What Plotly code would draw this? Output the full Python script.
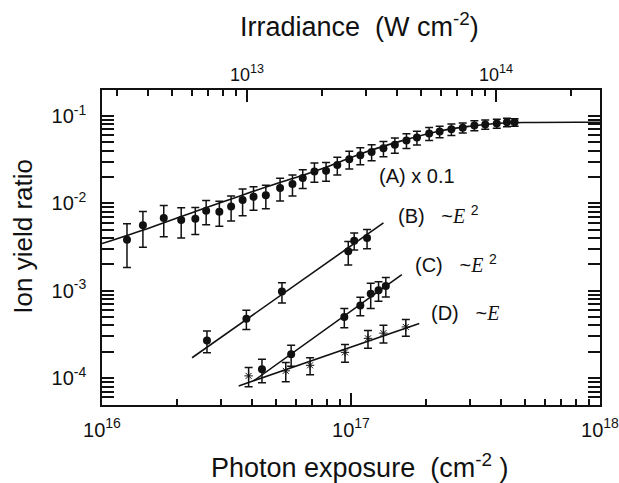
import plotly.graph_objects as go
import numpy as np

# ---------------- data ----------------
# Series A (x 0.1)
a_x = [1.26e16, 1.46e16, 1.77e16, 2.08e16, 2.37e16, 2.62e16, 2.96e16, 3.30e16, 3.67e16, 4.06e16,
       4.55e16, 5.19e16, 5.82e16, 6.40e16, 7.13e16, 7.94e16, 8.81e16, 9.84e16, 1.09e17, 1.21e17,
       1.35e17, 1.50e17, 1.67e17, 1.84e17, 2.06e17, 2.27e17, 2.53e17, 2.81e17, 3.13e17, 3.46e17,
       3.85e17, 4.23e17, 4.54e17]
a_y = [3.84e-3, 5.60e-3, 6.80e-3, 6.45e-3, 6.67e-3, 8.24e-3, 8.02e-3, 9.22e-3, 1.09e-2, 1.19e-2,
       1.24e-2, 1.50e-2, 1.66e-2, 1.95e-2, 2.32e-2, 2.36e-2, 2.74e-2, 3.20e-2, 3.54e-2, 3.88e-2,
       4.26e-2, 4.67e-2, 5.25e-2, 5.68e-2, 6.31e-2, 6.62e-2, 7.05e-2, 7.33e-2, 7.79e-2, 8.00e-2,
       8.21e-2, 8.47e-2, 8.47e-2]
a_rel_err = [0.52, 0.44, 0.39, 0.38, 0.34, 0.31, 0.32, 0.32, 0.34, 0.30,
             0.30, 0.29, 0.27, 0.24, 0.25, 0.24, 0.23, 0.23, 0.22, 0.21,
             0.20, 0.20, 0.19, 0.18, 0.17, 0.15, 0.15, 0.13, 0.13, 0.12,
             0.12, 0.11, 0.10]
a_fit_x = [1.0e16, 1.56e16, 2.48e16, 3.33e16, 4.73e16, 6.40e16, 8.24e16, 1.09e17, 1.57e17,
           2.27e17, 3.00e17, 3.95e17, 5.21e17, 1.0e18]
a_fit_y = [3.46e-3, 5.26e-3, 8.45e-3, 1.13e-2, 1.59e-2, 2.09e-2, 2.69e-2, 3.68e-2, 5.12e-2,
           6.74e-2, 7.63e-2, 8.26e-2, 8.43e-2, 8.47e-2]

# Series B  (~E^2)
b_x = [2.64e16, 3.80e16, 5.28e16, 9.75e16, 1.03e17, 1.16e17]
b_y = [2.70e-4, 4.79e-4, 9.80e-4, 2.82e-3, 3.74e-3, 4.02e-3]
b_rel_err = [0.28, 0.25, 0.26, 0.30, 0.22, 0.25]
b_fit_x = [2.30e16, 1.35e17]
b_fit_y = [1.71e-4, 5.96e-3]

# Series C  (~E^2)
c_x = [4.39e16, 5.75e16, 9.40e16, 1.09e17, 1.20e17, 1.29e17, 1.38e17]
c_y = [1.26e-4, 1.87e-4, 5.01e-4, 6.78e-4, 9.22e-4, 1.01e-3, 1.13e-3]
c_rel_err = [0.30, 0.27, 0.25, 0.24, 0.32, 0.25, 0.25]
c_fit_x = [4.06e16, 1.60e17]
c_fit_y = [9.27e-5, 1.53e-3]

# Series D  (~E)
d_x = [3.88e16, 5.47e16, 6.85e16, 9.46e16, 1.17e17, 1.35e17, 1.66e17]
d_y = [1.06e-4, 1.21e-4, 1.40e-4, 1.97e-4, 2.85e-4, 3.27e-4, 3.85e-4]
d_rel_err = [0.25, 0.25, 0.22, 0.23, 0.23, 0.23, 0.22]
d_fit_x = [3.54e16, 1.88e17]
d_fit_y = [8.13e-5, 4.22e-4]

# axes
x_range_log = [16, 18]
y_range_log = [-4.308, -0.703]
irr_log_offset = -3.582   # log10(irradiance / photon exposure)

x_major = [1e16, 1e17, 1e18]
x_major_text = ["10<sup>16</sup>", "10<sup>17</sup>", "10<sup>18</sup>"]
y_major = [1e-4, 1e-3, 1e-2, 1e-1]
y_major_text = ["10<sup>-4</sup>", "10<sup>-3</sup>", "10<sup>-2</sup>", "10<sup>-1</sup>"]
top_major = [1e13, 1e14]
top_major_text = ["10<sup>13</sup>", "10<sup>14</sup>"]


def minor_vals(lo_log, hi_log):
    vals = []
    for e in range(int(np.floor(lo_log)) - 1, int(np.ceil(hi_log)) + 1):
        for k in range(2, 10):
            v = k * 10.0 ** e
            if lo_log <= np.log10(v) <= hi_log:
                vals.append(v)
    return vals


top_range_log = [x_range_log[0] + irr_log_offset, x_range_log[1] + irr_log_offset]

FONT = "Liberation Sans, Arial, sans-serif"
INK = "#111111"

fig = go.Figure()


def add_points(x, y, rel, symbol, size, msize_line=0):
    err = [r * v for r, v in zip(rel, y)]
    fig.add_trace(go.Scatter(
        x=x, y=y, mode="markers",
        marker=dict(symbol=symbol, size=size, color=INK,
                    line=dict(color=INK, width=msize_line)),
        error_y=dict(type="data", array=err, symmetric=True, color=INK,
                     thickness=1.5, width=4),
        showlegend=False, hoverinfo="skip", cliponaxis=False))


def add_line(x, y, shape="linear"):
    fig.add_trace(go.Scatter(x=x, y=y, mode="lines",
                             line=dict(color=INK, width=1.6, shape=shape),
                             showlegend=False, hoverinfo="skip"))


add_line(a_fit_x, a_fit_y, shape="spline")
add_line(b_fit_x, b_fit_y)
add_line(c_fit_x, c_fit_y)
add_line(d_fit_x, d_fit_y)
add_points(a_x, a_y, a_rel_err, "circle", 8)
add_points(b_x, b_y, b_rel_err, "circle", 8)
add_points(c_x, c_y, c_rel_err, "circle", 8)
add_points(d_x, d_y, d_rel_err, "asterisk-open", 7, msize_line=1)

# invisible trace to carry the top (irradiance) axis
fig.add_trace(go.Scatter(x=[10 ** top_range_log[0], 10 ** top_range_log[1]],
                         y=[1e-2, 1e-2], xaxis="x2", yaxis="y", mode="markers",
                         marker=dict(opacity=0), showlegend=False, hoverinfo="skip"))

tickfont = dict(family=FONT, size=20, color=INK)

fig.update_layout(
    width=619, height=483,
    margin=dict(l=101.5, r=18.5, t=90, b=78, autoexpand=False),
    paper_bgcolor="white", plot_bgcolor="white",
    xaxis=dict(type="log", range=x_range_log, showgrid=False, zeroline=False, automargin=False,
               showline=True, linecolor=INK, linewidth=1.5, mirror=False,
               tickmode="array", tickvals=x_major, ticktext=x_major_text,
               ticks="inside", ticklen=12, tickwidth=1.5, tickcolor=INK,
               tickfont=tickfont, ticklabelstandoff=6, ticklabeloverflow="allow",
               minor=dict(tickmode="array", tickvals=minor_vals(*x_range_log),
                          ticks="inside", ticklen=6, tickwidth=1.5, tickcolor=INK, showgrid=False)),
    xaxis2=dict(type="log", range=top_range_log, overlaying="x", side="top", anchor="y",
                automargin=False, ticklabeloverflow="allow",
                showgrid=False, zeroline=False, showline=True, linecolor=INK, linewidth=1.5,
                tickmode="array", tickvals=top_major, ticktext=top_major_text,
                ticks="inside", ticklen=12, tickwidth=1.5, tickcolor=INK,
                tickfont=dict(family=FONT, size=18, color=INK),
                minor=dict(tickmode="array", tickvals=minor_vals(*top_range_log),
                           ticks="inside", ticklen=6, tickwidth=1.5, tickcolor=INK, showgrid=False)),
    yaxis=dict(type="log", range=y_range_log, showgrid=False, zeroline=False, automargin=False,
               showline=True, linecolor=INK, linewidth=1.5, mirror="allticks",
               tickmode="array", tickvals=y_major, ticktext=y_major_text,
               ticks="inside", ticklen=12, tickwidth=1.5, tickcolor=INK,
               tickfont=tickfont, ticklabelstandoff=10, ticklabeloverflow="allow",
               minor=dict(tickmode="array", tickvals=minor_vals(*y_range_log),
                          ticks="inside", ticklen=6, tickwidth=1.5, tickcolor=INK, showgrid=False)),
)

NB = "\u00a0"
E_ITAL = "<span style='font-family:Liberation Serif, serif'><i>E</i></span>"
ann_font = dict(family=FONT, size=20, color=INK)
annotations = [
    dict(text="(A)" + NB + "x 0.1", x=0.632, y=0.727, xanchor="center", yanchor="middle", font=ann_font),
    dict(text="(B)" + NB * 3 + "~" + E_ITAL + NB + "<sup>2</sup>", x=0.590, y=0.606,
         xanchor="left", yanchor="middle", font=ann_font),
    dict(text="(C)" + NB * 3 + "~" + E_ITAL + NB + "<sup>2</sup>", x=0.624, y=0.450,
         xanchor="left", yanchor="middle", font=ann_font),
    dict(text="(D)" + NB * 3 + "~" + E_ITAL, x=0.656, y=0.292,
         xanchor="left", yanchor="middle", font=ann_font),
    dict(text="Photon exposure" + NB * 2 + "(cm<sup>-2</sup>" + NB + ")", x=0.518, y=-0.194,
         xanchor="center", yanchor="middle", font=dict(family=FONT, size=27, color=INK)),
    dict(text="Irradiance" + NB * 2 + "(W cm<sup>-2</sup>)", x=0.518, y=1.206,
         xanchor="center", yanchor="middle", font=dict(family=FONT, size=27, color=INK)),
    dict(text="Ion yield ratio", x=-0.159, y=0.537, textangle=-90,
         xanchor="center", yanchor="middle", font=dict(family=FONT, size=26, color=INK)),
]
for a in annotations:
    a.update(xref="paper", yref="paper", showarrow=False)
fig.update_layout(annotations=annotations)

fig.write_html("out.html")
